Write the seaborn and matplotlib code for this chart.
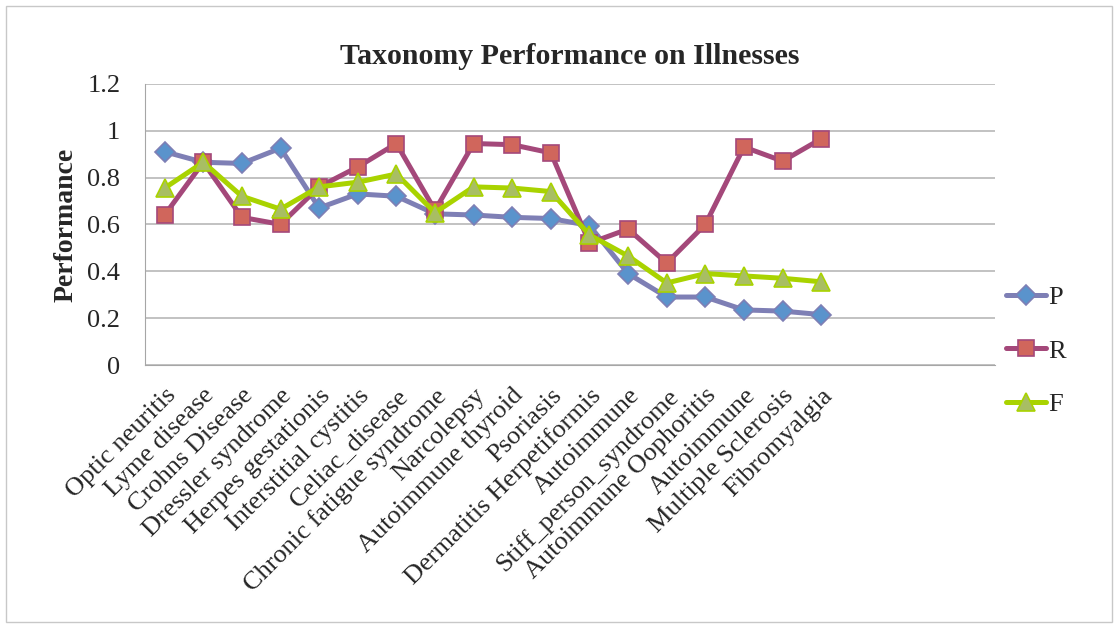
import numpy as np
import pandas as pd
import matplotlib
matplotlib.use("Agg")
import matplotlib.pyplot as plt
import seaborn as sns
from matplotlib.patches import Rectangle
from matplotlib.ticker import FuncFormatter

# data
illnesses = ["Optic neuritis", "Lyme disease", "Crohns Disease", "Dressler syndrome",
             "Herpes gestationis", "Interstitial cystitis", "Celiac_disease",
             "Chronic fatigue syndrome", "Narcolepsy", "Autoimmune thyroid", "Psoriasis",
             "Dermatitis Herpetiformis", "Autoimmune", "Stiff_person_syndrome",
             "Autoimmune Oophoritis", "Autoimmune", "Multiple Sclerosis", "Fibromyalgia"]
P = [0.91, 0.865, 0.86, 0.925, 0.67, 0.73, 0.72, 0.645, 0.64, 0.63, 0.625, 0.595,
     0.39, 0.29, 0.29, 0.235, 0.23, 0.215]
R = [0.64, 0.865, 0.63, 0.60, 0.76, 0.845, 0.945, 0.66, 0.945, 0.94, 0.905, 0.52,
     0.58, 0.435, 0.60, 0.93, 0.87, 0.965]
F = [0.755, 0.865, 0.72, 0.665, 0.76, 0.78, 0.815, 0.65, 0.76, 0.755, 0.74, 0.555,
     0.465, 0.35, 0.39, 0.38, 0.37, 0.355]

sns.set_style("white")
plt.rcParams['font.family'] = ['Liberation Serif', 'DejaVu Serif']

fig = plt.figure(figsize=(11.18, 6.25), dpi=100)
ax = fig.add_axes([0.130, 0.416, 0.760, 0.450])

x = np.arange(len(illnesses))
styles = [("P", P, "D", "#7E7FB5", "#5A93CC", 10.5),
          ("R", R, "s", "#A4487A", "#D0665C", 12),
          ("F", F, "^", "#A9D300", "#A8BE63", 13)]
for name, vals, mk, lc, fc, ms in styles:
    df = pd.DataFrame({"x": x, "y": vals})
    sns.lineplot(data=df, x="x", y="y", ax=ax, sort=False, color=lc, linewidth=3.6,
                 marker=mk, markersize=ms, markerfacecolor=fc, markeredgecolor=lc,
                 markeredgewidth=1.2, label=name)

ax.set_xlim(-0.5, 21.5)
ax.set_ylim(0, 1.2)
ax.set_yticks(np.arange(0, 1.21, 0.2))
ax.yaxis.set_major_formatter(FuncFormatter(lambda v, p: f"{v:g}"))
ax.grid(axis="y", color="#BDBDBD", linewidth=1.3)
ax.set_axisbelow(True)
for s in ["top", "right"]:
    ax.spines[s].set_visible(False)
ax.spines["left"].set_color("#A6A6A6")
ax.spines["bottom"].set_color("#A6A6A6")
ax.set_xticks(x)
ax.set_xticklabels(illnesses, rotation=45, ha="right", rotation_mode="anchor", fontsize=19)
ax.tick_params(axis="y", labelsize=19, length=0, pad=18)
ax.tick_params(axis="x", length=0, pad=14)
ax.set_xlabel("")
ax.set_ylabel("Performance", fontsize=20, fontweight="bold", labelpad=6)
ax.set_title("Taxonomy Performance on Illnesses", fontsize=21.5, fontweight="bold", pad=14)

leg = ax.legend(loc="center left", bbox_to_anchor=(0.985, 0.05), frameon=False,
                fontsize=19, labelspacing=1.15, handlelength=1.5, handletextpad=0.1)

fig.patches.append(Rectangle((0.005, 0.005), 0.99, 0.985, transform=fig.transFigure,
                             fill=False, edgecolor="#C8C8C8", linewidth=1))

plt.savefig("out.png", dpi=100)
